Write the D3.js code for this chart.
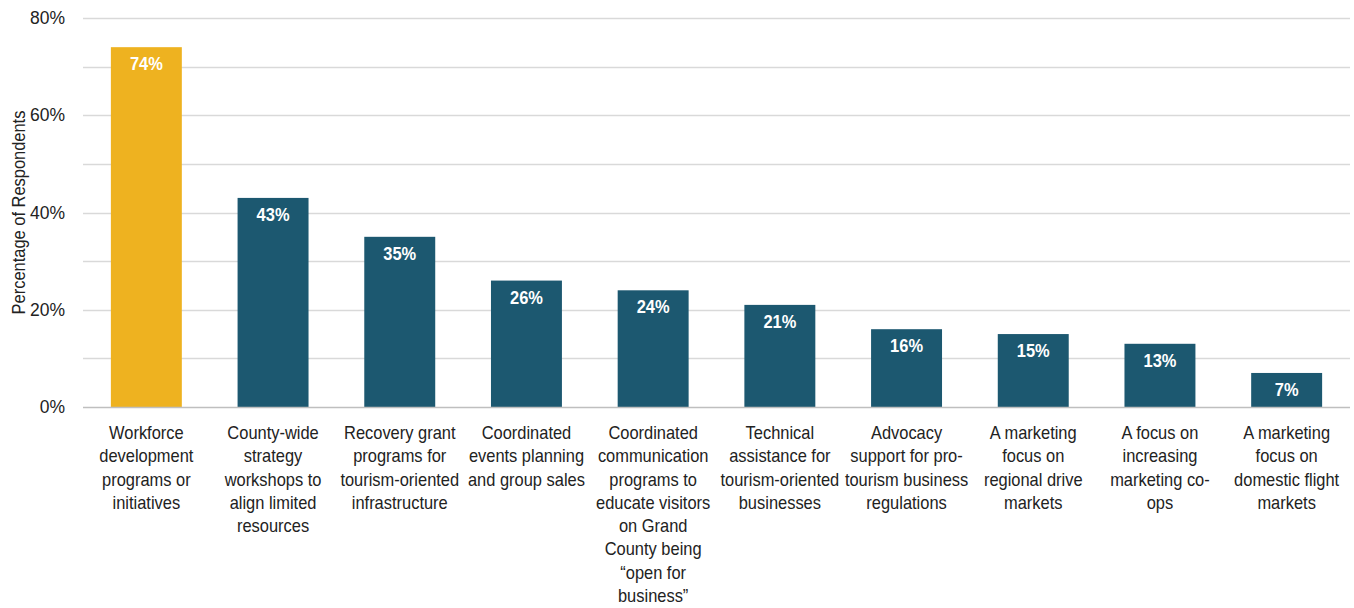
<!DOCTYPE html>
<html>
<head>
<meta charset="utf-8">
<script src="https://cdn.jsdelivr.net/npm/d3@7/dist/d3.min.js"></script>
<style>
  html, body { margin: 0; padding: 0; background: #fff; }
  svg { display: block; }
  text { font-family: "Liberation Sans Narrow", "Arial Narrow", "Liberation Sans", Arial, sans-serif; }
</style>
</head>
<body>
<svg id="chart" width="1354" height="608"></svg>
<script>
// Survey responses: share of respondents selecting each priority
const categories = [
  "Workforce\ndevelopment\nprograms or\ninitiatives",
  "County-wide\nstrategy\nworkshops to\nalign limited\nresources",
  "Recovery grant\nprograms for\ntourism-oriented\ninfrastructure",
  "Coordinated\nevents planning\nand group sales",
  "Coordinated\ncommunication\nprograms to\neducate visitors\non Grand\nCounty being\n\u201copen for\nbusiness\u201d",
  "Technical\nassistance for\ntourism-oriented\nbusinesses",
  "Advocacy\nsupport for pro-\ntourism business\nregulations",
  "A marketing\nfocus on\nregional drive\nmarkets",
  "A focus on\nincreasing\nmarketing co-\nops",
  "A marketing\nfocus on\ndomestic flight\nmarkets"
];
const values = [74, 43, 35, 26, 24, 21, 16, 15, 13, 7];
const yTickValues = [0, 20, 40, 60, 80];
const yGridValues = [10, 20, 30, 40, 50, 60, 70, 80];
const yTitle = "Percentage of Respondents";

const svg = d3.select("#chart");
const margin = { left: 83, right: 4, top: 18, bottom: 201 };
const width = 1354, height = 608;
const condense = 0.94; // horizontal squeeze for a narrower type look

const x = d3.scaleBand()
  .domain(d3.range(categories.length))
  .range([margin.left, width - margin.right])
  .paddingInner(0.44)
  .paddingOuter(0.22);

const y = d3.scaleLinear()
  .domain([0, 80])
  .range([height - margin.bottom, margin.top]);

// Horizontal gridlines
svg.append("g")
  .selectAll("line")
  .data(yGridValues)
  .join("line")
  .attr("x1", margin.left)
  .attr("x2", width - margin.right)
  .attr("y1", d => Math.round(y(d)) + 0.5)
  .attr("y2", d => Math.round(y(d)) + 0.5)
  .attr("stroke", "#d9d9d9")
  .attr("stroke-width", 1.3);

// Y axis tick labels
const yAxis = d3.axisLeft(y)
  .tickValues(yTickValues)
  .tickSize(0)
  .tickPadding(18)
  .tickFormat(d => d + "%");
const yg = svg.append("g")
  .attr("transform", `translate(${margin.left},0)`)
  .call(yAxis);
yg.select(".domain").remove();
yg.selectAll("text")
  .attr("font-size", 17.5)
  .attr("fill", "#222")
  .style("font-family", "\"Liberation Sans Narrow\", \"Arial Narrow\", \"Liberation Sans\", Arial, sans-serif");

// Y axis title
svg.append("text")
  .attr("transform", `translate(25,${(y(0) + y(80)) / 2}) rotate(-90) scale(${condense},1)`)
  .attr("text-anchor", "middle")
  .attr("font-size", 17.5)
  .attr("fill", "#222")
  .text(yTitle);

// Bars
svg.append("g")
  .selectAll("rect")
  .data(values)
  .join("rect")
  .attr("x", (d, i) => x(i))
  .attr("width", x.bandwidth())
  .attr("y", d => y(d))
  .attr("height", d => y(0) - y(d))
  .attr("fill", (d, i) => i === 0 ? "#EEB220" : "#1C5870");

// Baseline
svg.append("line")
  .attr("x1", margin.left)
  .attr("x2", width - margin.right)
  .attr("y1", Math.round(y(0)) + 0.5)
  .attr("y2", Math.round(y(0)) + 0.5)
  .attr("stroke", "#bfbfbf")
  .attr("stroke-width", 1.5);

// Value labels inside the bars
svg.append("g")
  .selectAll("text")
  .data(values)
  .join("text")
  .attr("transform", (d, i) => `translate(${x(i) + x.bandwidth() / 2},${y(d) + 23}) scale(${condense},1)`)
  .attr("text-anchor", "middle")
  .attr("font-size", 17.5)
  .attr("font-weight", "bold")
  .attr("fill", "#fff")
  .text(d => d + "%");

// Category labels, one tspan per line
const catG = svg.append("g")
  .selectAll("text")
  .data(categories)
  .join("text")
  .attr("transform", (d, i) => `translate(${x(i) + x.bandwidth() / 2},${y(0) + 32}) scale(${condense},1)`)
  .attr("text-anchor", "middle")
  .attr("font-size", 17.5)
  .attr("fill", "#222");
catG.selectAll("tspan")
  .data(d => d.split("\n"))
  .join("tspan")
  .attr("x", 0)
  .attr("dy", (d, i) => i === 0 ? 0 : 23.3)
  .text(d => d);
</script>
</body>
</html>
